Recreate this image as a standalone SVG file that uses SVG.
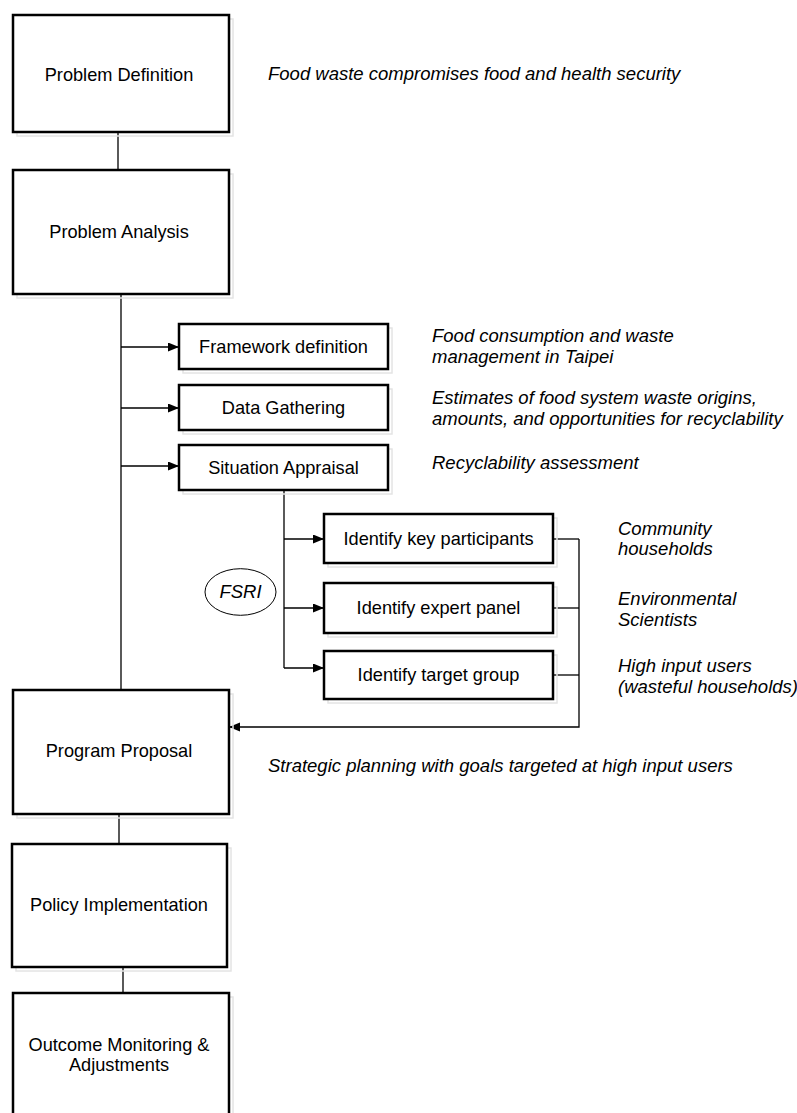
<svg xmlns="http://www.w3.org/2000/svg" width="797" height="1113" viewBox="0 0 797 1113">
<style>
.box{fill:#fff;stroke:#000;stroke-width:2.5}
.sh{fill:none;stroke:#e4e4e4;stroke-width:1.5}
.t{font-family:"Liberation Sans",Arial,sans-serif;font-size:18.2px;fill:#000;text-anchor:middle}
.it{font-family:"Liberation Sans",Arial,sans-serif;font-size:18.5px;font-style:italic;fill:#000}
.ln{fill:none;stroke:#000;stroke-width:1.3}
</style>
<defs>
<marker id="arr" markerUnits="userSpaceOnUse" markerWidth="12" markerHeight="10" refX="11" refY="4.5" orient="auto">
<path d="M0,0 L11,4.5 L0,9 z" fill="#000"/>
</marker>
</defs>
<rect width="797" height="1113" fill="#fff"/>
<g id="connectors">
<line class="ln" x1="118" y1="132" x2="118" y2="170"/>
<line class="ln" x1="121" y1="294" x2="121" y2="690"/>
<line class="ln" x1="121" y1="347" x2="179" y2="347" marker-end="url(#arr)"/>
<line class="ln" x1="121" y1="408" x2="179" y2="408" marker-end="url(#arr)"/>
<line class="ln" x1="121" y1="466" x2="179" y2="466" marker-end="url(#arr)"/>
<polyline class="ln" points="284,490 284,668"/>
<line class="ln" x1="284" y1="539" x2="324" y2="539" marker-end="url(#arr)"/>
<line class="ln" x1="284" y1="608" x2="324" y2="608" marker-end="url(#arr)"/>
<line class="ln" x1="284" y1="668" x2="324" y2="668" marker-end="url(#arr)"/>
<line class="ln" x1="553" y1="539" x2="579" y2="539"/>
<line class="ln" x1="553" y1="608" x2="579" y2="608"/>
<line class="ln" x1="553" y1="675" x2="579" y2="675"/>
<polyline class="ln" points="579,539 579,727 229,727" marker-end="url(#arr)"/>
<line class="ln" x1="119" y1="814" x2="119" y2="844"/>
<line class="ln" x1="123" y1="967" x2="123" y2="993"/>
</g>
<g id="problem-definition">
<rect class="sh" x="17" y="19" width="216" height="117"/>
<rect class="box" x="13" y="15" width="216" height="117"/>
<text class="t" x="119" y="81">Problem Definition</text>
</g>
<g id="problem-analysis">
<rect class="sh" x="17" y="174" width="216" height="124"/>
<rect class="box" x="13" y="170" width="216" height="124"/>
<text class="t" x="119" y="238">Problem Analysis</text>
</g>
<g id="framework-definition">
<rect class="sh" x="183" y="328" width="209" height="45"/>
<rect class="box" x="179" y="324" width="209" height="45"/>
<text class="t" x="283.5" y="353">Framework definition</text>
</g>
<g id="data-gathering">
<rect class="sh" x="183" y="389" width="209" height="45"/>
<rect class="box" x="179" y="385" width="209" height="45"/>
<text class="t" x="283.5" y="414">Data Gathering</text>
</g>
<g id="situation-appraisal">
<rect class="sh" x="183" y="449" width="209" height="45"/>
<rect class="box" x="179" y="445" width="209" height="45"/>
<text class="t" x="283.5" y="474">Situation Appraisal</text>
</g>
<g id="key-participants">
<rect class="sh" x="328" y="518" width="229" height="49"/>
<rect class="box" x="324" y="514" width="229" height="49"/>
<text class="t" x="438.5" y="545">Identify key participants</text>
</g>
<g id="expert-panel">
<rect class="sh" x="328" y="587" width="229" height="50"/>
<rect class="box" x="324" y="583" width="229" height="50"/>
<text class="t" x="438.5" y="614">Identify expert panel</text>
</g>
<g id="target-group">
<rect class="sh" x="328" y="655" width="229" height="48"/>
<rect class="box" x="324" y="651" width="229" height="48"/>
<text class="t" x="438.5" y="681">Identify target group</text>
</g>
<g id="fsri">
<ellipse cx="240.5" cy="592" rx="35.5" ry="23.3" fill="#fff" stroke="#000" stroke-width="1"/>
<text class="it" x="240.5" y="598" text-anchor="middle">FSRI</text>
</g>
<g id="program-proposal">
<rect class="sh" x="17" y="694" width="216" height="124"/>
<rect class="box" x="13" y="690" width="216" height="124"/>
<text class="t" x="119" y="757">Program Proposal</text>
</g>
<g id="policy-implementation">
<rect class="sh" x="16" y="848" width="215" height="123"/>
<rect class="box" x="12" y="844" width="215" height="123"/>
<text class="t" x="119" y="911">Policy Implementation</text>
</g>
<g id="outcome-monitoring">
<rect class="sh" x="17" y="997" width="216" height="130"/>
<rect class="box" x="13" y="993" width="216" height="130"/>
<text class="t" x="119" y="1051">Outcome Monitoring &amp;</text>
<text class="t" x="119" y="1071">Adjustments</text>
</g>
<g id="annotations">
<text class="it" x="268" y="80">Food waste compromises food and health security</text>
<text class="it" x="432" y="342">Food consumption and waste</text>
<text class="it" x="432" y="363">management in Taipei</text>
<text class="it" x="432" y="404">Estimates of food system waste origins,</text>
<text class="it" x="432" y="425">amounts, and opportunities for recyclability</text>
<text class="it" x="432" y="469">Recyclability assessment</text>
<text class="it" x="618" y="535">Community</text>
<text class="it" x="618" y="555">households</text>
<text class="it" x="618" y="605">Environmental</text>
<text class="it" x="618" y="626">Scientists</text>
<text class="it" x="618" y="672">High input users</text>
<text class="it" x="618" y="693">(wasteful households)</text>
<text class="it" x="268" y="772">Strategic planning with goals targeted at high input users</text>
</g>
</svg>
